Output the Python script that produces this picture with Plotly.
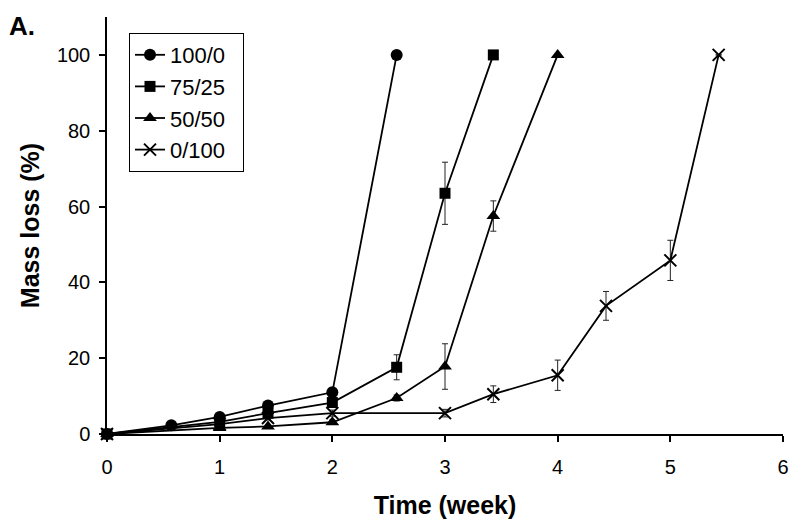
import plotly.graph_objects as go

# Data (time in weeks, mass loss %)
x_100_0 = [0, 0.571, 1, 1.429, 2, 2.571]
y_100_0 = [0, 2.3, 4.5, 7.5, 11, 100]
e_100_0 = [0, 0.4, 0.6, 0.8, 1.0, 0]

x_75_25 = [0, 1, 1.429, 2, 2.571, 3, 3.429]
y_75_25 = [0, 3.2, 5.5, 8.3, 17.6, 63.5, 100]
e_75_25 = [0, 0.6, 0.8, 1.2, 3.3, 8.2, 0]

x_50_50 = [0, 1, 1.429, 2, 2.571, 3, 3.429, 4]
y_50_50 = [0, 1.6, 2.0, 3.1, 9.5, 17.8, 57.5, 100]
e_50_50 = [0, 0.4, 0.4, 0.6, 0.8, 6.0, 4.0, 0]

x_0_100 = [0, 1, 1.429, 2, 3, 3.429, 4, 4.429, 5, 5.429]
y_0_100 = [0, 2.6, 4.2, 5.5, 5.5, 10.5, 15.5, 33.8, 45.8, 100]
e_0_100 = [0, 0.4, 0.5, 0.8, 1.0, 2.2, 4.0, 3.8, 5.3, 0]

series = [
    ("100/0", x_100_0, y_100_0, e_100_0, "circle", 12),
    ("75/25", x_75_25, y_75_25, e_75_25, "square", 11),
    ("50/50", x_50_50, y_50_50, e_50_50, "triangle-up", 12),
    ("0/100", x_0_100, y_0_100, e_0_100, "x-thin", 12),
]

x_ticks = [0, 1, 2, 3, 4, 5, 6]
y_ticks = [0, 20, 40, 60, 80, 100]

FONT = "Liberation Sans, Arial, sans-serif"

fig = go.Figure()
for name, xs, ys, es, sym, sz in series:
    fig.add_trace(go.Scatter(
        x=xs, y=ys, name=name + "\u00a0\u00a0", mode="lines+markers",
        line=dict(color="black", width=1.8),
        marker=dict(symbol=sym, size=sz, color="black",
                    line=dict(color="black", width=2 if sym == "x-thin" else 0)),
        error_y=dict(type="data", array=es, visible=True, color="#222222",
                     thickness=1, width=3),
        legendgroup=name,
        cliponaxis=False,
    ))

# page body has an 8px margin, so margins are offset by 8px
fig.update_layout(
    width=800, height=527,
    margin=dict(l=99, r=25, t=9, b=101, autoexpand=False),
    paper_bgcolor="white", plot_bgcolor="white",
    font=dict(family=FONT, color="black"),
    showlegend=True,
    legend=dict(
        x=(129 - 107) / 676, y=(434 - 33) / 417, xanchor="left", yanchor="top",
        bordercolor="black", borderwidth=1, bgcolor="white",
        font=dict(size=22, family=FONT),
        tracegroupgap=0, itemwidth=30,
    ),
    xaxis=dict(
        range=[0, 6], tickvals=x_ticks, ticktext=[str(v) for v in x_ticks],
        showline=True, linecolor="black", linewidth=1.5,
        ticks="outside", ticklen=6, tickcolor="black", tickwidth=1.5,
        showgrid=False, zeroline=False, automargin=False,
        tickfont=dict(size=20), ticklabelstandoff=8,
        title=dict(text="<b>Time (week)</b>", font=dict(size=25), standoff=20),
    ),
    yaxis=dict(
        range=[0, 110], tickvals=y_ticks, ticktext=[str(v) for v in y_ticks],
        showline=True, linecolor="black", linewidth=1.5,
        ticks="outside", ticklen=6, tickcolor="black", tickwidth=1.5,
        showgrid=False, zeroline=False, automargin=False,
        tickfont=dict(size=20), ticklabelstandoff=5,
        title=dict(text="<b>Mass loss (%)</b>", font=dict(size=25), standoff=10),
    ),
    annotations=[dict(text="<b>A.</b>", x=(7 - 107) / 676, y=(434 - 9) / 417,
                      xref="paper", yref="paper",
                      xanchor="left", yanchor="top", showarrow=False,
                      font=dict(size=26))],
)

fig.write_html("out.html")
